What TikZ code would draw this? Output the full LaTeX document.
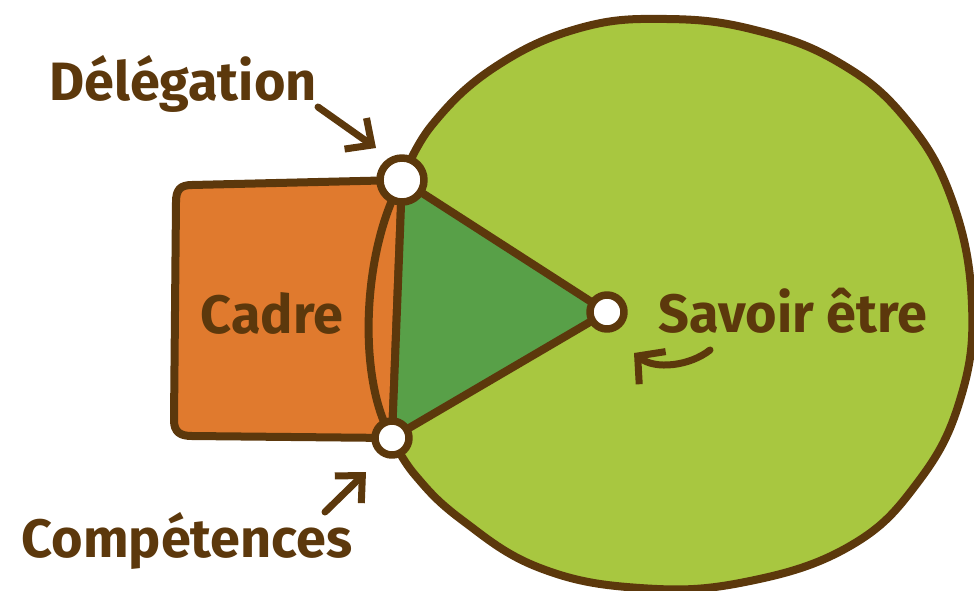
\documentclass[tikz,border=0pt]{standalone}
\usepackage{fontspec}
\setmainfont{Fira Sans}
\usetikzlibrary{arrows.meta}
\definecolor{brn}{RGB}{92,56,12}
\definecolor{lgreen}{RGB}{168,199,64}
\definecolor{dgreen}{RGB}{88,160,72}
\definecolor{orng}{RGB}{224,122,46}
\begin{document}
\begin{tikzpicture}[x=1pt,y=-1pt, line cap=round, line join=round,
  outline/.style={draw=brn, line width=8pt},
  joint/.style={circle, draw=brn, line width=7.5pt, fill=white, inner sep=0pt},
  lbl/.style={text=brn, font=\fontsize{54}{58}\selectfont\bfseries, inner sep=0pt, anchor=base},
  pointer/.style={draw=brn, line width=7pt, -{Straight Barb[length=20pt,width=38pt]}}]
\useasboundingbox (0,0) rectangle (974,590);
\coordinate (pD) at (402,180);
\coordinate (pS) at (607,312);
\coordinate (pC) at (392,438);
% big green disc
\draw[outline, fill=lgreen] plot[smooth, tension=0.7] coordinates {(402,180) (432,125) (495,67) (580,28) (667,19) (755,30) (838,62) (905,118) (952,200) (972,305) (960,400) (918,482) (850,546) (745,582) (640,588) (540,568) (462,520) (415,475) (392,438)} -- cycle;
% orange frame
\draw[outline, fill=orng] (pD) -- (192,185) .. controls (180,185) and (176,190) .. (176,202) -- (174,420) .. controls (174,432) and (180,436) .. (192,436) -- (pC) -- cycle;
% triangle
\draw[outline, fill=dgreen] (pD) -- (pS) -- (pC) -- cycle;
% lens curve
\draw[outline] (pD) .. controls (362,250) and (357,380) .. (pC);
% joints
\node[joint, minimum size=44pt] (D) at (pD) {};
\node[joint, minimum size=34pt] (C) at (pC) {};
\node[joint, minimum size=34pt] (S) at (pS) {};
% labels
\node[lbl] (tD) at (183,100) {Délégation};
\node[lbl] (tCadre) at (272,333) {Cadre};
\node[lbl] (tS) at (793,332) {Savoir être};
\node[lbl] (tC) at (187,557) {Compétences};
% arrows
\coordinate (dA1) at (318,107);
\coordinate (dA2) at (376,148);
\coordinate (cA1) at (325,512);
\coordinate (cA2) at (366,472);
\coordinate (sA1) at (710,350);
\coordinate (sA2) at (634,353);
\draw[pointer] (dA1) -- (dA2);
\draw[pointer] (cA1) -- (cA2);
\draw[pointer, -{Straight Barb[length=19pt,width=42pt]}] (sA1) .. controls (690,366) and (655,370) .. (sA2);
\end{tikzpicture}
\end{document}
